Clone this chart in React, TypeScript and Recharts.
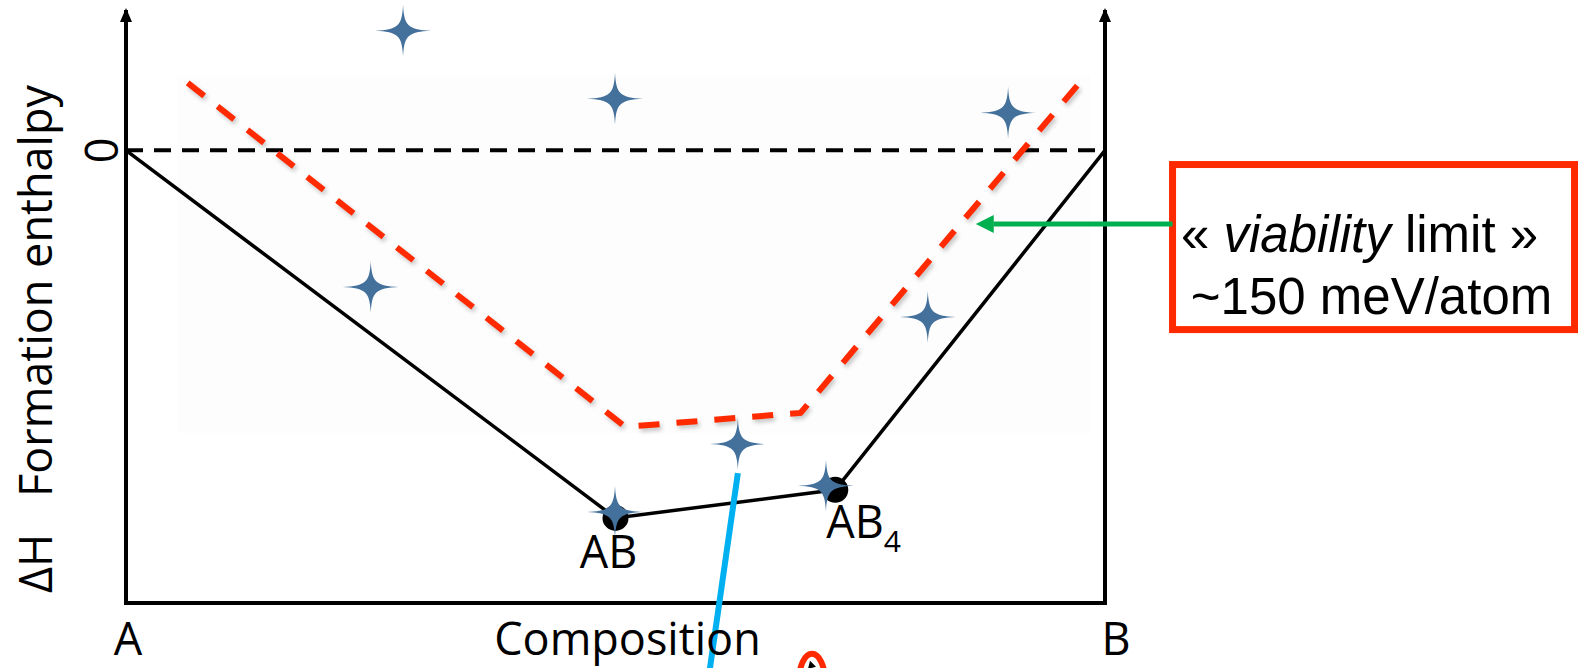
import {
  ComposedChart,
  XAxis,
  YAxis,
  Line,
  Scatter,
  ReferenceLine,
  ReferenceArea,
  ReferenceDot,
} from 'recharts'

// x = composition (fraction of B), h = formation enthalpy (0 at the pure elements, -1 at the bottom axis)
const hullX = [0, 0.5, 0.7245, 1]
const hullH = [0, -0.812, -0.75, 0]

// stable compounds sitting on the hull
const phaseNames = ['AB', 'AB4']
const phaseX = [0.5, 0.7245]
const phaseH = [-0.812, -0.75]

// metastable "viability limit" curve, ~150 meV/atom above the hull
const limitX = [0.063, 0.51, 0.689, 0.974]
const limitH = [0.149, -0.611, -0.58, 0.149]

// computed structures
const starX = [0.283, 0.4995, 0.901, 0.25, 0.819, 0.625, 0.4995, 0.715]
const starH = [0.264, 0.114, 0.083, -0.302, -0.368, -0.649, -0.799, -0.741]

const endLabels = ['A', 'B']
const H_MIN = -1
const H_MAX = 0.31

const hull = hullX.map((x, i) => ({ x, h: hullH[i] }))
const phases = phaseX.map((x, i) => ({ x, h: phaseH[i], name: phaseNames[i] }))
const limit = limitX.map((x, i) => ({ x, h: limitH[i] }))
const stars = starX.map((x, i) => ({ x, h: starH[i] }))

const LABEL_FONT = "'Open Sans', 'Noto Sans', sans-serif"
const BOX_FONT = "'Liberation Sans', Arial, sans-serif"
const RED = '#ff2a00'
const STAR = '#44709c'

function Star(props: any) {
  const { cx, cy } = props
  const a = 28
  const b = 26
  const k = 5
  const j = 1
  const d =
    `M${cx},${cy - b} C${cx + j},${cy - k} ${cx + k},${cy - j} ${cx + a},${cy} ` +
    `C${cx + k},${cy + j} ${cx + j},${cy + k} ${cx},${cy + b} ` +
    `C${cx - j},${cy + k} ${cx - k},${cy + j} ${cx - a},${cy} ` +
    `C${cx - k},${cy - j} ${cx - j},${cy - k} ${cx},${cy - b} Z`
  return <path d={d} fill={STAR} />
}

function Phase(props: any) {
  const { cx, cy, payload } = props
  const name: string = payload.name
  const base = name.replace(/\d+$/, '')
  const sub = name.slice(base.length)
  return (
    <g>
      <circle cx={cx} cy={cy} r={13} fill="#000" />
      {sub ? (
        <text x={cx - 9} y={cy + 48} fontSize={45} fontFamily={LABEL_FONT} fill="#000">
          {base}
          <tspan fontSize={30} dy={14}>{sub}</tspan>
        </text>
      ) : (
        <text x={cx - 7} y={cy + 50} fontSize={45} fontFamily={LABEL_FONT} fill="#000" textAnchor="middle">
          {base}
        </text>
      )}
    </g>
  )
}

// end-member labels under the composition axis
const endMark = (i: number, dx: number) => (props: any) => (
  <text
    x={props.cx + dx}
    y={props.cy + 52}
    fontSize={45}
    fontFamily={LABEL_FONT}
    fill="#000"
    textAnchor="middle"
  >
    {endLabels[i]}
  </text>
)

function XTitle(props: any) {
  const { cx, cy } = props
  return (
    <text x={cx + 12} y={cy + 52} fontSize={45} fontFamily={LABEL_FONT} fill="#000" textAnchor="middle">
      Composition
    </text>
  )
}

function ZeroMark(props: any) {
  const { cx, cy } = props
  const x = cx - 8
  return (
    <text
      x={x}
      y={cy}
      fontSize={45}
      fontFamily={LABEL_FONT}
      fill="#000"
      textAnchor="middle"
      transform={`rotate(-90, ${x}, ${cy})`}
    >
      0
    </text>
  )
}

function YTitle(props: any) {
  const { cx, cy } = props
  const x = cx - 74
  const y1 = cy - 10
  const y2 = cy - 106
  return (
    <g fontSize={45} fontFamily={LABEL_FONT} fill="#000">
      <text x={x} y={y1} transform={`rotate(-90, ${x}, ${y1})`}>ΔH</text>
      <text x={x} y={y2} transform={`rotate(-90, ${x}, ${y2})`}>Formation enthalpy</text>
    </g>
  )
}

function ArrowUp(props: any) {
  const { cx, cy } = props
  return <path d={`M${cx},${cy - 2} L${cx + 6},${cy + 12} L${cx - 6},${cy + 12} Z`} fill="#000" />
}

function ArrowLeft(props: any) {
  const { cx, cy } = props
  return <path d={`M${cx},${cy} L${cx + 18},${cy - 9} L${cx + 18},${cy + 9} Z`} fill="#00b050" />
}

function Callout(props: any) {
  const { x, y, width, height } = props
  const tx = x + width / 2 - 12
  return (
    <g>
      <rect x={x} y={y} width={width} height={height} fill="#fff" stroke={RED} strokeWidth={7} />
      <text x={tx - 2} y={y + 87} fontSize={51} fontFamily={BOX_FONT} fill="#000" textAnchor="middle">
        {'« '}
        <tspan fontStyle="italic">viability</tspan>
        {' limit »'}
      </text>
      <text x={tx + 10} y={y + 149} fontSize={51} fontFamily={BOX_FONT} fill="#000" textAnchor="middle">
        ~150 meV/atom
      </text>
    </g>
  )
}

function Blob(props: any) {
  const { cx, cy } = props
  return (
    <g>
      <ellipse cx={cx} cy={cy} rx={13} ry={27} fill="#fff" stroke={RED} strokeWidth={6} />
      <path d={`M${cx - 2},${cy - 20} L${cx + 4},${cy - 14} L${cx - 4},${cy - 12} Z`} fill="#000" />
    </g>
  )
}

export default function App() {
  return (
    <div style={{ position: 'absolute', left: 0, top: 0, width: 1580, height: 668, background: '#fff' }}>
      <style>{`.limit-line path { filter: drop-shadow(2px 3px 2px rgba(0,0,0,0.22)); }`}</style>
      <ComposedChart
        width={1580}
        height={668}
        margin={{ top: 10, right: 475, bottom: 65, left: 126 }}
      >
        <XAxis type="number" dataKey="x" domain={[0, 1]} hide />
        <YAxis type="number" dataKey="h" domain={[H_MIN, H_MAX]} hide />

        <ReferenceArea x1={0.052} x2={0.985} y1={0.166} y2={-0.625} fill="#f5f5f5" fillOpacity={0.2} stroke="none" />

        {/* axes: left and right enthalpy axes with arrow heads, bottom composition axis */}
        <ReferenceLine x={0} stroke="#000" strokeWidth={4} />
        <ReferenceLine x={1} stroke="#000" strokeWidth={4} />
        <ReferenceLine
          segment={[{ x: 0, y: H_MIN }, { x: 1, y: H_MIN }]}
          stroke="#000"
          strokeWidth={4}
          strokeLinecap="square"
        />
        <ReferenceDot x={0} y={H_MAX} ifOverflow="visible" shape={ArrowUp} />
        <ReferenceDot x={1} y={H_MAX} ifOverflow="visible" shape={ArrowUp} />
        <ReferenceLine y={0} stroke="#000" strokeWidth={4} strokeDasharray="17 11" />

        <ReferenceDot x={0} y={H_MIN} ifOverflow="visible" shape={endMark(0, 2)} />
        <ReferenceDot x={1} y={H_MIN} ifOverflow="visible" shape={endMark(1, 11)} />
        <ReferenceDot x={0.5} y={H_MIN} ifOverflow="visible" shape={XTitle} />
        <ReferenceDot x={0} y={0} ifOverflow="visible" shape={ZeroMark} />
        <ReferenceDot x={0} y={H_MIN} ifOverflow="visible" shape={YTitle} />

        <Line
          data={hull}
          dataKey="h"
          type="linear"
          stroke="#000"
          strokeWidth={3.5}
          dot={false}
          activeDot={false}
          isAnimationActive={false}
        />
        <Line
          data={limit}
          dataKey="h"
          type="linear"
          className="limit-line"
          stroke={RED}
          strokeWidth={6}
          strokeDasharray="21 17"
          dot={false}
          activeDot={false}
          isAnimationActive={false}
        />
        <Scatter data={phases} dataKey="h" shape={Phase} isAnimationActive={false} />
        <Scatter data={stars} dataKey="h" shape={Star} isAnimationActive={false} />

        <ReferenceLine
          segment={[{ x: 0.625, y: -0.713 }, { x: 0.5928, y: -1.2 }]}
          ifOverflow="visible"
          stroke="#00b0f0"
          strokeWidth={6}
        />
        <ReferenceDot x={0.7007} y={-1.172} ifOverflow="visible" shape={Blob} />

        <ReferenceArea
          x1={1.069}
          x2={1.4796}
          y1={-0.0314}
          y2={-0.396}
          ifOverflow="visible"
          shape={Callout}
        />
        <ReferenceLine
          segment={[{ x: 1.069, y: -0.163 }, { x: 0.886, y: -0.163 }]}
          ifOverflow="visible"
          stroke="#00b050"
          strokeWidth={5}
        />
        <ReferenceDot x={0.868} y={-0.163} ifOverflow="visible" shape={ArrowLeft} />
      </ComposedChart>
    </div>
  )
}
